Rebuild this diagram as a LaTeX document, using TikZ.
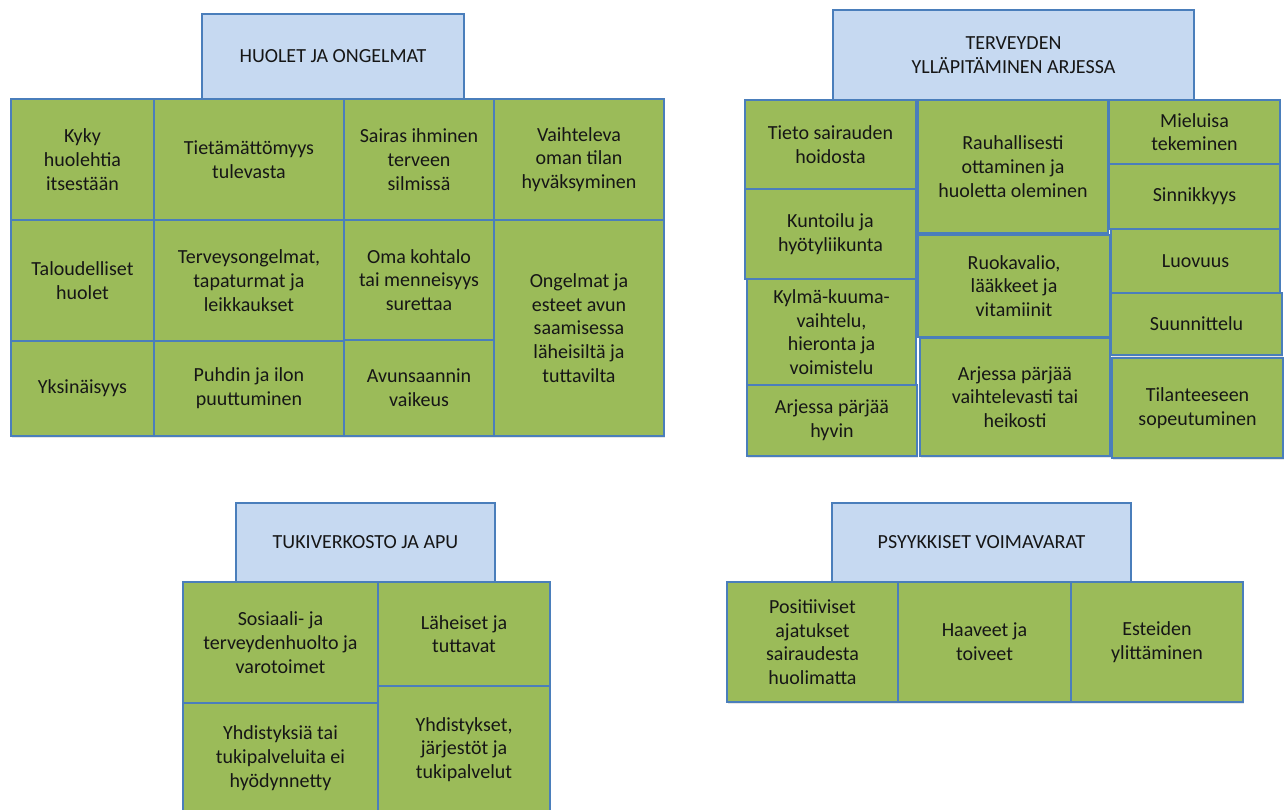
\documentclass[tikz,border=0pt]{standalone}
\usepackage{fontspec}
\setmainfont{Carlito}
\usetikzlibrary{shadows}

\definecolor{hdrfill}{RGB}{198,217,241}
\definecolor{cellfill}{RGB}{155,187,89}
\definecolor{edge}{RGB}{74,126,187}
\definecolor{ink}{RGB}{22,22,22}

\tikzset{
  box/.style={draw=edge, line width=1.2pt, text=ink, align=center,
    inner sep=0pt, outer sep=0pt, font=\fontsize{20}{23.7}\selectfont},
  hdr/.style={box, fill=hdrfill},
  cell/.style={box, fill=cellfill,
    drop shadow={shadow xshift=1pt, shadow yshift=-2pt, opacity=0.2}},
}

% #1 style, #2 name, #3 left, #4 top, #5 right, #6 bottom, #7 text
\newcommand\boxat[7]{%
  \node[#1, minimum width={(#5-#3)*1pt}, minimum height={(#6-#4)*1pt}]
    (#2) at ({(#3+#5)/2},{(#4+#6)/2}) {#7};}

\begin{document}
\begin{tikzpicture}[x=1pt,y=-1pt]
\useasboundingbox (0,0) rectangle (1287,809);

% ---- Huolet ja ongelmat
\boxat{hdr}{hA}{202}{14}{464}{99}{HUOLET JA ONGELMAT}
\boxat{cell}{a11}{11}{99}{154}{220}{Kyky\\huolehtia\\itsestään}
\boxat{cell}{a12}{154}{99}{344}{220}{Tietämättömyys\\tulevasta}
\boxat{cell}{a13}{344}{99}{494}{220}{Sairas ihminen\\terveen\\silmissä}
\boxat{cell}{a14}{494}{99}{664}{220}{Vaihteleva\\oman tilan\\hyväksyminen}
\boxat{cell}{a21}{11}{220}{154}{341}{Taloudelliset\\huolet}
\boxat{cell}{a22}{154}{220}{344}{341}{Terveysongelmat,\\tapaturmat ja\\leikkaukset}
\boxat{cell}{a23}{344}{220}{494}{340}{Oma kohtalo\\tai menneisyys\\surettaa}
\boxat{cell}{a31}{11}{341}{154}{436}{Yksinäisyys}
\boxat{cell}{a32}{154}{341}{344}{436}{Puhdin ja ilon\\puuttuminen}
\boxat{cell}{a33}{344}{340}{494}{436}{Avunsaannin\\vaikeus}
\boxat{cell}{a24}{494}{220}{664}{436}{Ongelmat ja\\esteet avun\\saamisessa\\läheisiltä ja\\tuttavilta}

% ---- Terveyden ylläpitäminen arjessa
\boxat{hdr}{hB}{833}{10}{1194}{100}{TERVEYDEN\\YLLÄPITÄMINEN ARJESSA}
\boxat{cell}{b11}{745}{100}{916}{189}{Tieto sairauden\\hoidosta}
\boxat{cell}{b21}{745}{189}{916}{279}{Kuntoilu ja\\hyötyliikunta}
\boxat{cell}{b31}{747}{279}{916}{385}{Kylmä-kuuma-\\vaihtelu,\\hieronta ja\\voimistelu}
\boxat{cell}{b41}{747}{385}{917}{456}{Arjessa pärjää\\hyvin}
\boxat{cell}{b12}{918}{100}{1108}{233}{Rauhallisesti\\ottaminen ja\\huoletta oleminen}
\boxat{cell}{b22}{918}{235}{1110}{337}{Ruokavalio,\\lääkkeet ja\\vitamiinit}
\boxat{cell}{b32}{920}{338}{1110}{456}{Arjessa pärjää\\vaihtelevasti tai\\heikosti}
\boxat{cell}{b13}{1109}{100}{1280}{164}{Mieluisa\\tekeminen}
\boxat{cell}{b23}{1109}{164}{1280}{229}{Sinnikkyys}
\boxat{cell}{b33}{1111}{229}{1280}{293}{Luovuus}
\boxat{cell}{b43}{1111}{293}{1282}{355}{Suunnittelu}
\boxat{cell}{b53}{1112}{358}{1283}{458}{Tilanteeseen\\sopeutuminen}

% ---- Tukiverkosto ja apu
\boxat{hdr}{hC}{236}{503}{495}{582}{TUKIVERKOSTO JA APU}
\boxat{cell}{c11}{183}{582}{378}{703}{Sosiaali- ja\\terveydenhuolto ja\\varotoimet}
\boxat{cell}{c12}{378}{582}{550}{686}{Läheiset ja\\tuttavat}
\boxat{cell}{c21}{183}{703}{378}{813}{Yhdistyksiä tai\\tukipalveluita ei\\hyödynnetty}
\boxat{cell}{c22}{378}{686}{550}{813}{Yhdistykset,\\järjestöt ja\\tukipalvelut}

% ---- Psyykkiset voimavarat
\boxat{hdr}{hD}{832}{503}{1131}{582}{PSYYKKISET VOIMAVARAT}
\boxat{cell}{d1}{727}{582}{898}{702}{Positiiviset\\ajatukset\\sairaudesta\\huolimatta}
\boxat{cell}{d2}{898}{582}{1071}{702}{Haaveet ja\\toiveet}
\boxat{cell}{d3}{1071}{582}{1243}{702}{Esteiden\\ylittäminen}
\end{tikzpicture}
\end{document}
